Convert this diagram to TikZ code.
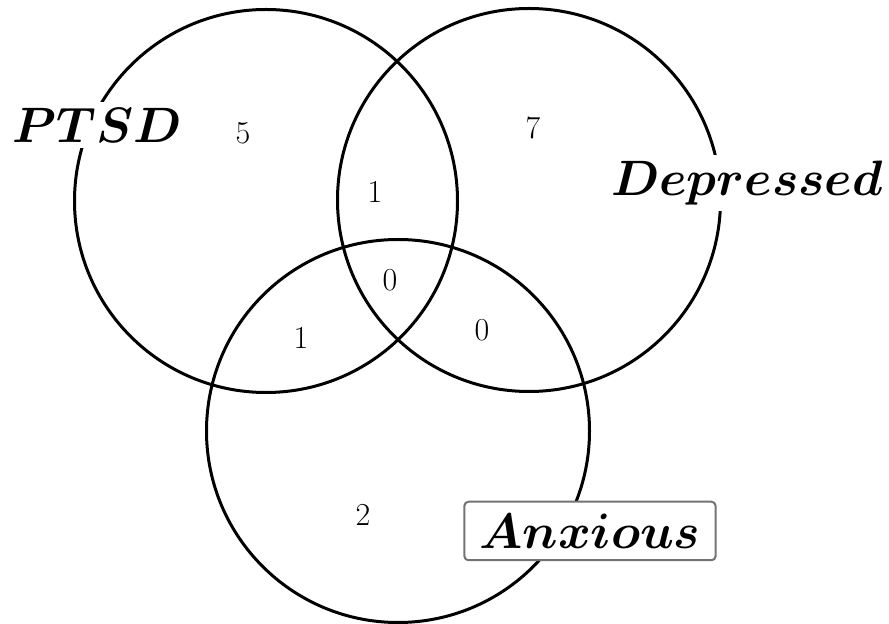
\documentclass[tikz,border=0pt]{standalone}
\usetikzlibrary{positioning}
\tikzset{
  grp/.style={circle, draw, line width=1.5pt, minimum size=191.5pt, inner sep=0pt},
  lbl/.style={fill=white, inner sep=3pt, font=\fontsize{24}{28}\selectfont\boldmath},
  cnt/.style={font=\fontsize{16}{18}\selectfont},
}
\begin{document}
\begin{tikzpicture}[x=0.5pt, y=-0.5pt]
\useasboundingbox (0,0) rectangle (889,624);

% ── Conjuntos ───────────────────────────────────────────────
\node[grp] (ptsd) at (266,201) {};
\node[grp] (dep) at (529,200) {};
\node[grp] (anx) at (398,431) {};

% ── Etiquetas ───────────────────────────────────────────────
\node[lbl] (lptsd) at (97,125) {$PTSD$};
\node[lbl] (ldep) at (747,183) {$Depressed$};
\node[lbl, draw=black!55, line width=1pt, rounded corners=2pt,
  inner xsep=7.5pt, inner ysep=6pt] (lanx) at (590,531) {$Anxious$};

% ── Cuentas ─────────────────────────────────────────────────
\node[cnt] (nP) at (243,133) {5};
\node[cnt] (nD) at (533,128) {7};
\node[cnt] (nPD) at (375,192) {1};
\node[cnt] (nPDA) at (390,280) {0};
\node[cnt] (nPA) at (301,338) {1};
\node[cnt] (nDA) at (482,330) {0};
\node[cnt] (nA) at (363,515) {2};

\end{tikzpicture}
\end{document}
